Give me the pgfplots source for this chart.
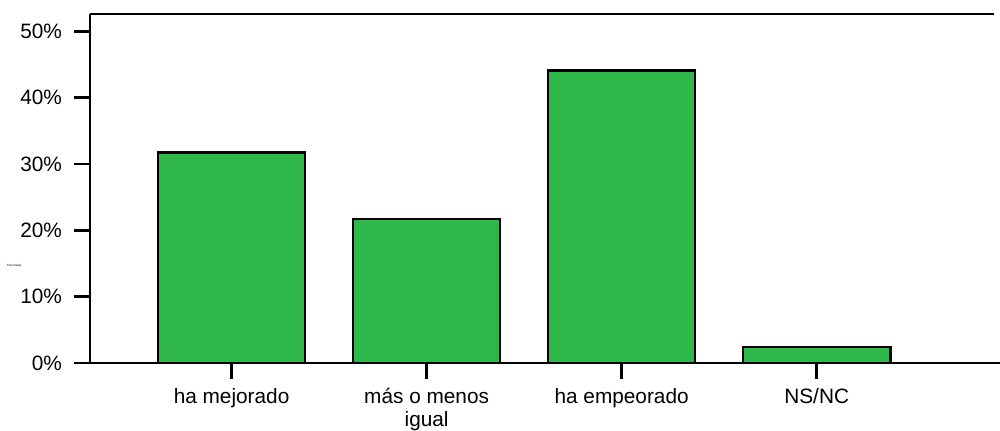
\documentclass[border=0pt]{standalone}
\usepackage{pgfplots}
\pgfplotsset{compat=1.18}
\usepackage{fontspec}
\setmainfont{Liberation Sans}
\definecolor{barGreen}{RGB}{46,184,74}

\begin{document}
\begin{tikzpicture}
\begin{axis}[
    scale only axis,
    width=455pt, height=174.5pt,
    xmin=-0.726, xmax=3.94,
    ymin=0, ymax=52.6,
    axis x line=bottom, axis y line=left,
    axis line style={line width=1.4pt, -},
    xtick={0,1,2,3},
    xticklabels={ha mejorado, {más o menos\\igual}, ha empeorado, NS/NC},
    xticklabel style={align=center, font=\fontsize{10.4}{11.5}\selectfont, yshift=-1pt},
    ytick={0,10,20,30,40,50},
    yticklabels={0\%,10\%,20\%,30\%,40\%,50\%},
    yticklabel style={font=\fontsize{10.4}{11}\selectfont, xshift=-2.5pt},
    tick style={line width=1.4pt, black},
    tick align=outside,
    major tick length=8pt,
    clip=false,
]
\addplot[ybar, bar width=0.754, fill=barGreen, draw=black, line width=1.3pt]
    coordinates {(0,31.7)(1,21.7)(2,44.1)(3,2.4)};
\draw[line width=1.4pt] (rel axis cs:0,1) -- (axis cs:3.91,52.6);
\node[font=\fontsize{1.5}{2}\selectfont, anchor=west] at ([xshift=-45pt]rel axis cs:0,0.28) {Porcentaje};
\coordinate (sw) at (rel axis cs:0,0);
\coordinate (ne) at (rel axis cs:1,1);
\end{axis}
\pgfresetboundingbox
\path[use as bounding box] ([xshift=-45pt,yshift=-33.5pt]sw) rectangle ([yshift=7pt]ne);
\end{tikzpicture}
\end{document}
